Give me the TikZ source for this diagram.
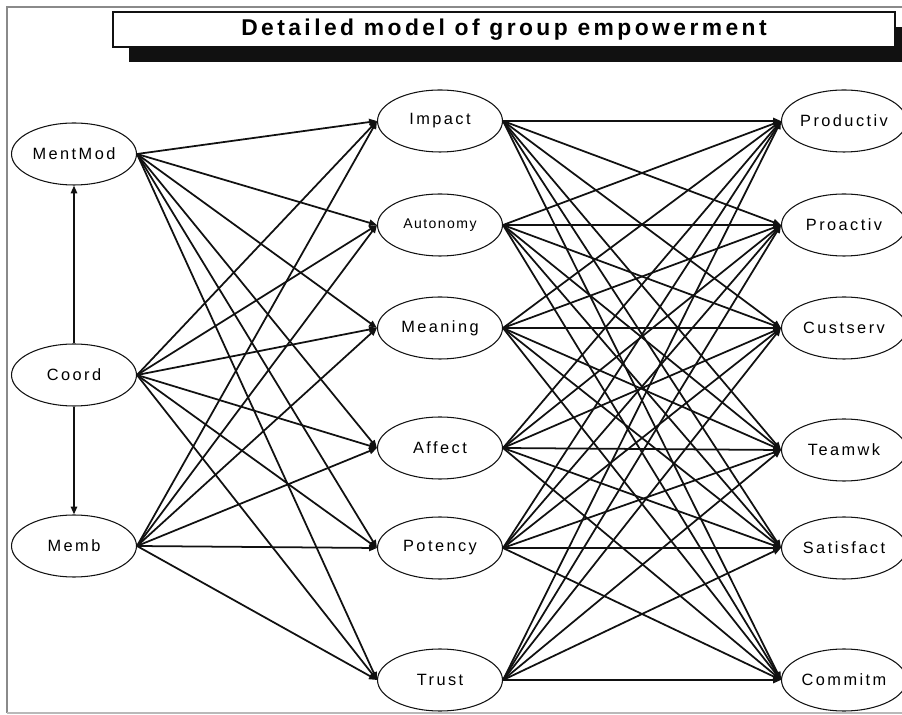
\documentclass[tikz,border=0pt]{standalone}
\usepackage{fontspec}
\setmainfont{Liberation Sans}
\usepackage{tikz}
\usetikzlibrary{arrows.meta,shapes.geometric,shadows}
\definecolor{ink}{HTML}{111111}
\definecolor{frame}{HTML}{8A8A8A}

\begin{document}
\begin{tikzpicture}[x=0.02cm,y=-0.02cm,>={Triangle[length=4.5pt,width=3.6pt]},
  var/.style={ellipse,draw=ink,line width=0.6pt,inner sep=0pt,minimum width=2.5cm,minimum height=1.24cm,
    font=\fontsize{9.3}{11}\selectfont\addfontfeatures{LetterSpace=15}},
  edge/.style={->,ink,line width=1pt}]
\useasboundingbox (0,0) rectangle (902,715);
\clip (0,0) rectangle (902,715);
% frame and title
\draw[frame,line width=0.7pt] (902,7) -- (7,7) -- (7,713);
\draw[frame!60,line width=0.8pt] (7,713) -- (902,713);
\node[draw=ink,line width=0.9pt,fill=white,minimum width=15.64cm,minimum height=0.7cm,
  drop shadow={shadow xshift=0.32cm,shadow yshift=-0.3cm,fill=ink,opacity=1},
  font=\fontsize{13}{15}\selectfont\bfseries\addfontfeatures{LetterSpace=15}] (title) at (504,29.5) {Detailed model of group empowerment};
% left: antecedents
\node[var] (ment) at (74,154) {MentMod};
\node[var] (coord) at (74,375) {Coord};
\node[var] (memb) at (74,546) {Memb};
% middle: empowerment
\node[var] (impact) at (440,121) {Impact};
\node[var,font=\fontsize{8}{9}\selectfont\addfontfeatures{LetterSpace=10}] (auto) at (440,225) {Autonomy};
\node[var] (mean) at (440,328) {Meaning};
\node[var] (affect) at (440,448) {Affect};
\node[var] (pot) at (440,548) {Potency};
\node[var] (trust) at (440,680) {Trust};
% right: outcomes
\node[var] (prod) at (844,121) {Productiv};
\node[var] (proact) at (844,225) {Proactiv};
\node[var] (cust) at (844,328) {Custserv};
\node[var] (team) at (844,450) {Teamwk};
\node[var] (satis) at (844,548) {Satisfact};
\node[var] (commit) at (844,680) {Commitm};
% connectors
\draw[edge] (coord.north) -- (ment.south);
\draw[edge] (coord.south) -- (memb.north);
\foreach \s in {ment,coord,memb}
  \foreach \t in {impact,auto,mean,affect,pot,trust}
    \draw[edge] (\s.east) -- (\t.west);
\foreach \s in {impact,auto,mean,affect,pot,trust}
  \foreach \t in {prod,proact,cust,team,satis,commit}
    \draw[edge] (\s.east) -- (\t.west);
\end{tikzpicture}
\end{document}
